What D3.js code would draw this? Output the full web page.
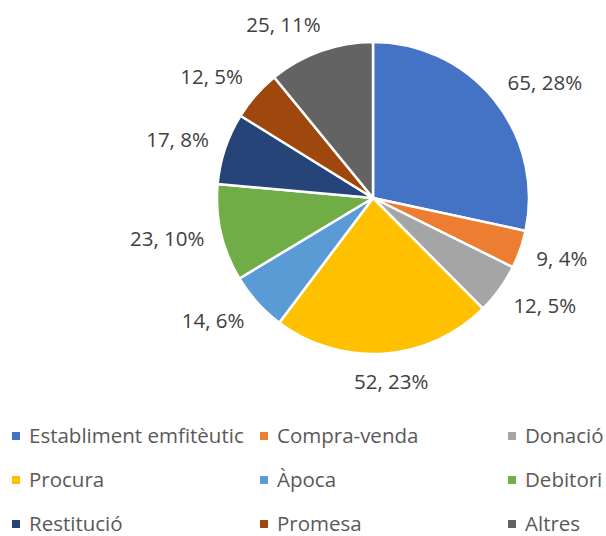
<!DOCTYPE html>
<html>
<head>
<meta charset="utf-8">
<script src="https://cdn.jsdelivr.net/npm/d3@7"></script>
<style>
    body { margin: 0; background: #fff; }
    svg text { font-family: "Open Sans", Lato, sans-serif; }
</style>
</head>
<body>
<div class="chart"></div>
<script>
var categories = ['Establiment emfitèutic', 'Compra-venda', 'Donació', 'Procura', 'Àpoca', 'Debitori', 'Restitució', 'Promesa', 'Altres'];
var values = [65, 9, 12, 52, 14, 23, 17, 12, 25];
var percentLabels = ['28%', '4%', '5%', '23%', '6%', '10%', '8%', '5%', '11%'];
var colors = ['#4472C4', '#ED7D31', '#A5A5A5', '#FFC000', '#5B9BD5', '#70AD47', '#264478', '#9E480E', '#636363'];

var width = 606;
var height = 536;
var cx = 373;
var cy = 198;
var radius = 156;

var svg = d3.select('.chart')
    .append('svg')
    .attr('width', width)
    .attr('height', height);

var data = categories.map(function(c, i) {
    return { name: c, value: values[i], pct: percentLabels[i], color: colors[i] };
});

var pie = d3.pie()
    .sort(null)
    .value(function(d) { return d.value; });

var arc = d3.arc()
    .innerRadius(0)
    .outerRadius(radius);

var arcs = pie(data);

var g = svg.append('g')
    .attr('transform', 'translate(' + cx + ',' + cy + ')');

g.selectAll('path')
    .data(arcs)
    .enter()
    .append('path')
    .attr('d', arc)
    .attr('fill', function(d) { return d.data.color; })
    .attr('stroke', '#fff')
    .attr('stroke-width', 2.5)
    .attr('stroke-linejoin', 'round');

// outside end labels: anchor just past the rim, box hangs off to the side
var pad = 17;
var labels = g.selectAll('text.lbl')
    .data(arcs)
    .enter()
    .append('text')
    .attr('class', 'lbl')
    .attr('font-size', 20.5)
    .attr('fill', '#404040')
    .attr('text-anchor', 'middle')
    .attr('dy', '0.35em')
    .text(function(d) { return d.data.value + ', ' + d.data.pct; });

labels.each(function(d) {
    var a = (d.startAngle + d.endAngle) / 2;
    var w = this.getComputedTextLength();
    var h = 22;
    var s = Math.sin(a), c = -Math.cos(a);
    var r = radius + pad;
    var k = Math.max(-1, Math.min(1, s * 2.5));
    d3.select(this)
        .attr('x', s * r + k * w / 2)
        .attr('y', c * r + c * h / 2);
});

// legend, three columns
var colX = [12, 260, 508];
var rowY = [436, 480, 524];

var legend = svg.selectAll('g.legend')
    .data(data)
    .enter()
    .append('g')
    .attr('class', 'legend')
    .attr('transform', function(d, i) {
        return 'translate(' + colX[i % 3] + ',' + rowY[Math.floor(i / 3)] + ')';
    });

legend.append('rect')
    .attr('x', 0)
    .attr('y', -4)
    .attr('width', 8)
    .attr('height', 8)
    .attr('fill', function(d) { return d.color; });

legend.append('text')
    .attr('x', 17)
    .attr('dy', '0.36em')
    .attr('font-size', 20.5)
    .attr('fill', '#595959')
    .text(function(d) { return d.name; });
</script>
</body>
</html>
